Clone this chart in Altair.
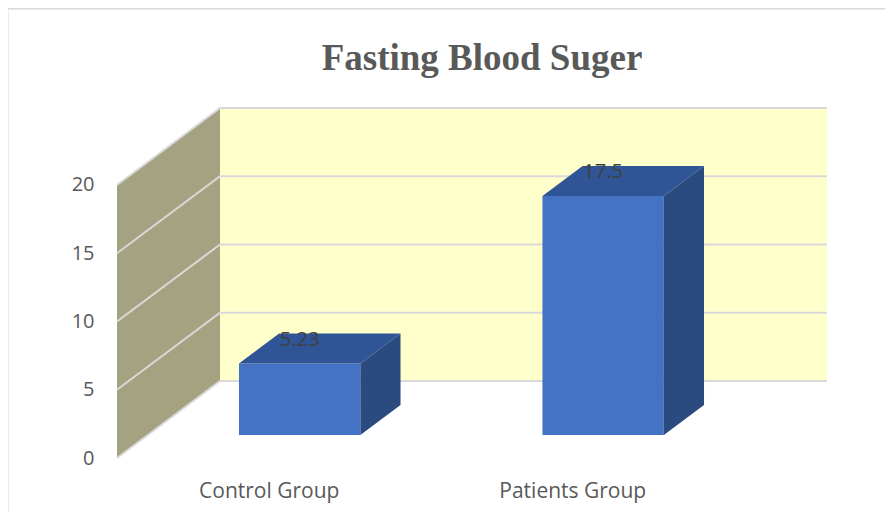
import json
import altair as alt
import pandas as pd

# ---------------- data ----------------
categories = ["Control Group", "Patients Group"]
values = [5.23, 17.5]
value_labels = ["5.23", "17.5"]
tick_values = [0, 5, 10, 15, 20]
title_text = "Fasting Blood Suger"

# ---------------- 3-D projection (oblique), in data units ----------------
Y_MAX = 20
DEPTH_DX = 0.3394   # back-wall shift along x, in category bands
DEPTH_DY = 5.64     # back-wall shift along y, in value units
BAR_HALF = 0.20     # half bar width, in bands
D0, D1 = 0.30, 0.69 # bar front / back depth (0 = front plane, 1 = back wall)
N = len(categories)

W, H = 710, 350


def px(x, d):
    return x + d * DEPTH_DX


def py(v, d):
    return v + d * DEPTH_DY


x_scale = alt.Scale(domain=[0, N + DEPTH_DX], nice=False, zero=False)
y_scale = alt.Scale(domain=[0, Y_MAX + DEPTH_DY], nice=False, zero=False)

label_font = "Open Sans"
label_expr = f"{json.dumps(categories)}[floor(datum.value)]"

x_axis = alt.Axis(values=[i + 0.5 for i in range(N)], labelExpr=label_expr,
                  domain=False, ticks=False, tickSize=0, grid=False,
                  labelPadding=22, labelFontSize=21, labelFont=label_font,
                  labelColor="#595959", labelFlush=False, title=None)
y_axis = alt.Axis(values=tick_values, domain=False, ticks=False, tickSize=0,
                  grid=False, labelPadding=23, labelFontSize=20,
                  labelFont=label_font, labelColor="#595959",
                  labelFlush=False, title=None)


def X(f="x"):
    return alt.X(f"{f}:Q", scale=x_scale, axis=x_axis)


def Y(f="y"):
    return alt.Y(f"{f}:Q", scale=y_scale, axis=y_axis, stack=False)


# ---------------- walls ----------------
back_df = pd.DataFrame([{"x": px(0, 1), "x2": px(N, 1),
                         "y": py(0, 1), "y2": py(Y_MAX, 1)}])
back = alt.Chart(back_df).mark_rect(color="#FFFFCC").encode(
    x=X(), x2="x2:Q", y=Y(), y2="y2:Q")

side_df = pd.DataFrame([
    {"x": px(0, d), "y": py(0, d), "y2": py(Y_MAX, d)} for d in (0, 1)
])
side = alt.Chart(side_df).mark_area(color="#A4A281", orient="vertical").encode(
    x=X(), y=Y(), y2="y2:Q")

grid_rows = []
for t in tick_values:
    grid_rows.append({"t": t, "k": 0, "x": px(0, 0), "y": py(t, 0)})
    grid_rows.append({"t": t, "k": 1, "x": px(0, 1), "y": py(t, 1)})
    grid_rows.append({"t": t, "k": 2, "x": px(N, 1), "y": py(t, 1)})
grid = alt.Chart(pd.DataFrame(grid_rows)).mark_line(
    color="#D9D9D9", strokeWidth=2).encode(
    x=X(), y=Y(), detail="t:N", order="k:Q")

# ---------------- bars ----------------
front_rows, bside_rows, top_rows, lab_rows = [], [], [], []
for i, (cat, v, lab) in enumerate(zip(categories, values, value_labels)):
    c = i + 0.5
    front_rows.append({"cat": cat, "x": px(c - BAR_HALF, D0), "x2": px(c + BAR_HALF, D0),
                       "y": py(0, D0), "y2": py(v, D0)})
    for d in (D0, D1):
        bside_rows.append({"cat": cat, "x": px(c + BAR_HALF, d),
                           "y": py(0, d), "y2": py(v, d)})
        top_rows.append({"cat": cat, "y": py(v, d),
                         "x": px(c - BAR_HALF, d), "x2": px(c + BAR_HALF, d)})
    lab_rows.append({"cat": cat, "x": px(c, D0), "y": py(v, D0), "label": lab})

bar_front = alt.Chart(pd.DataFrame(front_rows)).mark_rect(color="#4472C4").encode(
    x=X(), x2="x2:Q", y=Y(), y2="y2:Q")
bar_side = alt.Chart(pd.DataFrame(bside_rows)).mark_area(
    color="#2A4A80", orient="vertical").encode(
    x=X(), y=Y(), y2="y2:Q", detail="cat:N")
bar_top = alt.Chart(pd.DataFrame(top_rows)).mark_area(
    color="#2F5597", orient="horizontal").encode(
    y=Y(), x=alt.X("x:Q", scale=x_scale, axis=x_axis, stack=False),
    x2="x2:Q", detail="cat:N")
labels = alt.Chart(pd.DataFrame(lab_rows)).mark_text(
    dy=-24, fontSize=20, font=label_font, color="#404040").encode(
    x=X(), y=Y(), text="label:N")

# ---------------- outer border (decoration) ----------------
border = alt.Chart(pd.DataFrame([{"b": 1}])).mark_rect(
    filled=False, stroke="#D9D9D9", strokeWidth=1.5).encode(
    x=alt.value(-109.25), x2=alt.value(W + 120),
    y=alt.value(-99.25), y2=alt.value(H + 120))

chart = alt.layer(back, side, grid, bar_front, bar_side, bar_top, labels, border).properties(
    width=W, height=H,
    padding={"left": 109, "top": 100, "right": 58, "bottom": 54},
    autosize=alt.AutoSizeParams(type="none"),
    title=alt.Title(title_text, font="Liberation Serif", fontSize=37,
                    fontWeight="bold", color="#595959", anchor="middle",
                    frame="group", baseline="alphabetic", offset=-99, dx=10),
).configure_view(strokeWidth=0)

chart.save("out.html", embed_options={"renderer": "svg", "actions": False})
